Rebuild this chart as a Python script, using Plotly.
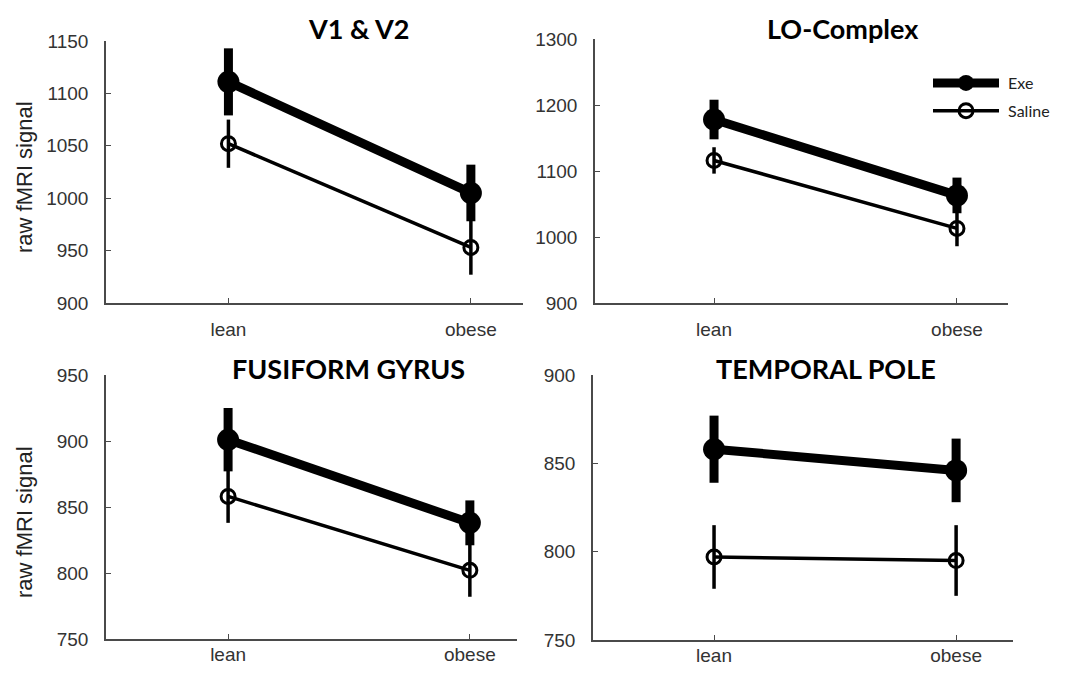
import plotly.graph_objects as go

categories = ["lean", "obese"]
regions = ["V1 & V2", "LO-Complex", "FUSIFORM GYRUS", "TEMPORAL POLE"]

exe_v1 = [1111, 1005]
exe_v1_err = [32, 27]
sal_v1 = [1052, 953]
sal_v1_err = [23, 26]

exe_lo = [1178, 1063]
exe_lo_err = [30, 27]
sal_lo = [1116, 1013]
sal_lo_err = [20, 27]

exe_fg = [901, 838]
exe_fg_err = [24, 17]
sal_fg = [858, 802]
sal_fg_err = [20, 20]

exe_tp = [858, 846]
exe_tp_err = [19, 18]
sal_tp = [797, 795]
sal_tp_err = [18, 20]

y_ranges = [[900, 1150], [900, 1300], [750, 950], [750, 900]]
y_ticks = [
    [900, 950, 1000, 1050, 1100, 1150],
    [900, 1000, 1100, 1200, 1300],
    [750, 800, 850, 900, 950],
    [750, 800, 850, 900],
]
y_label = "raw fMRI signal"

panels = [
    (exe_v1, exe_v1_err, sal_v1, sal_v1_err),
    (exe_lo, exe_lo_err, sal_lo, sal_lo_err),
    (exe_fg, exe_fg_err, sal_fg, sal_fg_err),
    (exe_tp, exe_tp_err, sal_tp, sal_tp_err),
]

# page body has an 8px margin: figure fills the window inside it
OFF = 8
W, H = 1065 - 2 * OFF, 673 - 2 * OFF
def px_x(v):
    return (v - OFF) / W
def px_y(v):
    return 1 - (v - OFF) / H

# plot-area boxes in window pixels (left, right, top, bottom)
boxes = [
    (106, 523, 41, 303),
    (595, 1008, 39, 303),
    (106, 517, 375, 639),
    (593, 1013, 375, 640),
]
x_ranges = [[-0.505, 1.215], [-0.49, 1.21], [-0.505, 1.195], [-0.5, 1.235]]
x_standoff = [8, 8, -3, -3]
title_pos = [(358, 28), (843, 28), (348, 368), (826, 368)]

fig = go.Figure()
axis_color = "#4a4a4a"
tick_font = dict(family="Liberation Sans, Arial, sans-serif", size=19, color="#333333")

for i, (ex, exe_e, sa, sa_e) in enumerate(panels):
    n = "" if i == 0 else str(i + 1)
    xa, ya = "x" + n, "y" + n
    fig.add_trace(go.Scatter(
        x=categories, y=sa, xaxis=xa, yaxis=ya, name="\u00a0Saline",
        mode="lines+markers", legendrank=2, showlegend=(i == 0), legendgroup="s",
        line=dict(color="black", width=3.5),
        marker=dict(symbol="circle-open", size=14, color="black", line=dict(width=3)),
        error_y=dict(type="data", array=sa_e, visible=True, color="black", thickness=3.5, width=0),
    ))
    fig.add_trace(go.Scatter(
        x=categories, y=ex, xaxis=xa, yaxis=ya, name="\u00a0Exe",
        mode="lines+markers", legendrank=1, showlegend=(i == 0), legendgroup="e",
        line=dict(color="black", width=9),
        marker=dict(symbol="circle", size=22, color="black"),
        error_y=dict(type="data", array=exe_e, visible=True, color="black", thickness=9, width=0),
    ))
    l, r, t, b = boxes[i]
    fig.layout["xaxis" + n] = dict(
        domain=[px_x(l), px_x(r)], anchor=ya, type="category", automargin=False,
        range=x_ranges[i], showline=True, linecolor=axis_color, linewidth=1.5,
        ticks="inside", ticklen=5, tickcolor=axis_color, tickfont=tick_font,
        ticklabelstandoff=x_standoff[i],
        showgrid=False, zeroline=False, fixedrange=True,
    )
    fig.layout["yaxis" + n] = dict(
        domain=[px_y(b), px_y(t)], anchor=xa, range=y_ranges[i], tickvals=y_ticks[i],
        automargin=False,
        showline=True, linecolor=axis_color, linewidth=1.5,
        ticks="inside", ticklen=5, tickcolor=axis_color, tickfont=tick_font, ticklabelstandoff=12,
        showgrid=False, zeroline=False, fixedrange=True,
    )
    tx, ty = title_pos[i]
    fig.add_annotation(
        text="<b>" + regions[i] + "</b>", x=px_x(tx), y=px_y(ty), xref="paper", yref="paper",
        xanchor="center", yanchor="middle", showarrow=False,
        font=dict(family="Lato, sans-serif", size=27, color="black"),
    )

for yc in (177, 522):
    fig.add_annotation(
        text=y_label, x=px_x(24), y=px_y(yc), xref="paper", yref="paper",
        xanchor="center", yanchor="middle", showarrow=False, textangle=-90,
        font=dict(family="Liberation Sans, Arial, sans-serif", size=22, color="#222222"),
    )

fig.update_layout(
    width=W, height=H, margin=dict(l=0, r=0, t=0, b=0, autoexpand=False),
    paper_bgcolor="white", plot_bgcolor="white",
    showlegend=True,
    legend=dict(
        x=px_x(928), y=px_y(66), xanchor="left", yanchor="top",
        bgcolor="rgba(0,0,0,0)", itemwidth=66, tracegroupgap=4,
        font=dict(family="Lato, sans-serif", size=16, color="#222222"),
    ),
)

fig.write_html("out.html")
